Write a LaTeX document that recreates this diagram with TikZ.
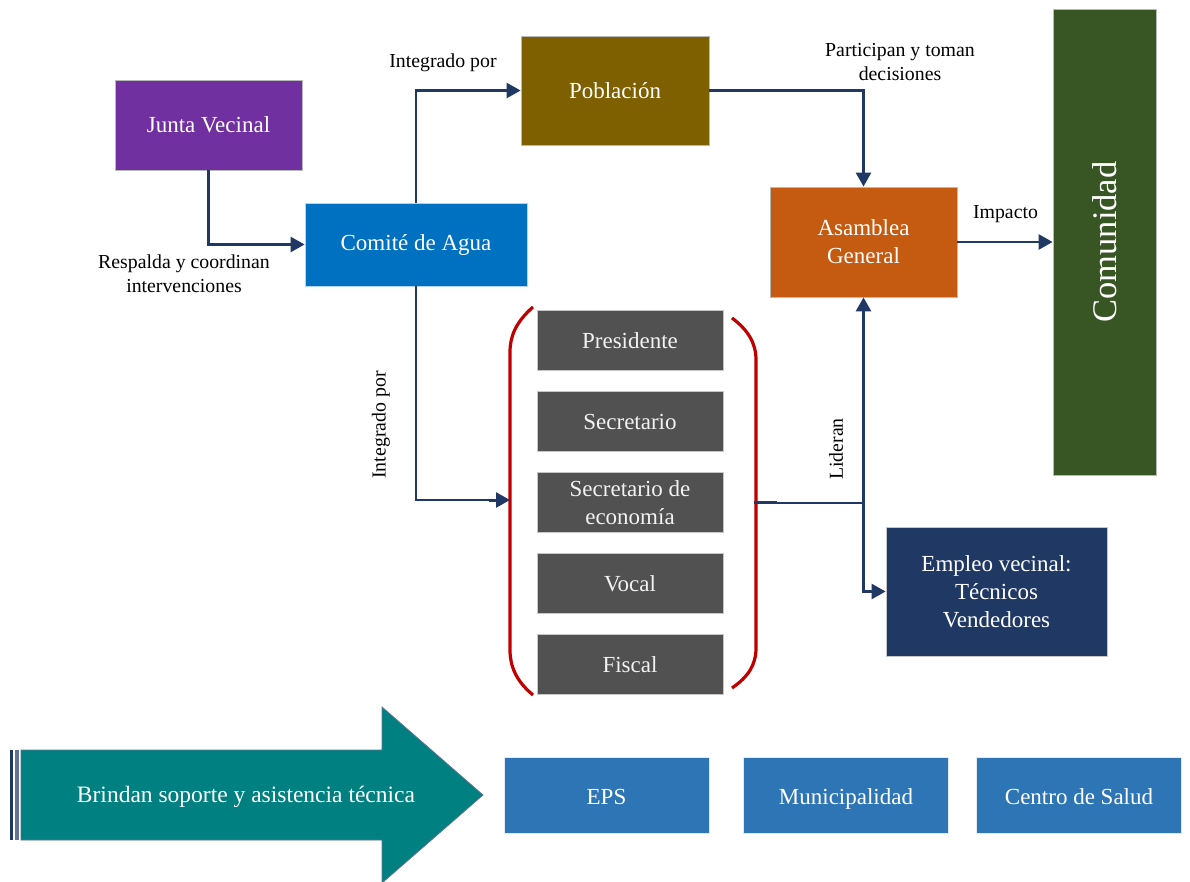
\documentclass[tikz,border=0pt]{standalone}
\usepackage{fontspec}
\setmainfont{Liberation Serif}
\usetikzlibrary{arrows.meta}
\definecolor{navy}{HTML}{203864}
\definecolor{juntac}{HTML}{7030A0}
\definecolor{comitec}{HTML}{0070C0}
\definecolor{poblc}{HTML}{7F6000}
\definecolor{asamc}{HTML}{C55A11}
\definecolor{comuc}{HTML}{375623}
\definecolor{cargoc}{HTML}{515151}
\definecolor{empleoc}{HTML}{1F3864}
\definecolor{apoyoc}{HTML}{2E75B6}
\definecolor{tealc}{HTML}{008080}
\definecolor{bracec}{HTML}{C00000}
\tikzset{
  box/.style={draw=gray!55, line width=0.8pt, text=white, align=center,
    font=\fontsize{23}{28}\selectfont, inner sep=2pt},
  cargo/.style={box, fill=cargoc, draw=gray!45, text=white!95!black,
    minimum width=186pt, minimum height=60pt},
  apoyo/.style={box, fill=apoyoc, draw=white!85!apoyoc,
    minimum width=205pt, minimum height=76pt, text height=19.6pt, text depth=0pt},
  lbl/.style={text=black, align=center, font=\fontsize{19.8}{24}\selectfont, inner sep=0pt},
  conn/.style={draw=navy, line width=2.6pt, line join=miter,
    -{Triangle[length=14pt,width=15pt]}},
  brace/.style={draw=bracec, line width=3.2pt}
}
\begin{document}
\begin{tikzpicture}[x=1pt,y=-1pt]
\useasboundingbox (0,0) rectangle (1190,882);

% main boxes
\node[box, fill=juntac, minimum width=187pt, minimum height=90pt] (junta) at (208.5,125) {Junta Vecinal};
\node[box, fill=comitec, draw=white!70!comitec, minimum width=222pt, minimum height=83pt] (comite) at (416,244.5) {Comité de Agua};
\node[box, fill=poblc, minimum width=188pt, minimum height=109pt] (poblacion) at (615,90.5) {Población};
\node[box, fill=asamc, minimum width=187pt, minimum height=110pt] (asamblea) at (863.5,242) {Asamblea\\General};
\node[box, fill=comuc, minimum width=103pt, minimum height=466pt] (comunidad) at (1104.5,242) {};
\node[text=white, rotate=90, font=\fontsize{34.5}{40}\selectfont] (comunidadtxt) at (comunidad.center) {Comunidad};
\node[box, fill=empleoc, draw=gray!45, minimum width=221pt, minimum height=129pt] (empleo) at (996.5,591.5) {Empleo vecinal:\\Técnicos\\Vendedores};

% members of the committee
\begin{scope}[yshift=-1.5pt]
\node[cargo] (presidente) at (630,339) {Presidente};
\node[cargo] (secretario) at (630,420) {Secretario};
\node[cargo] (economia) at (630,501) {Secretario de\\economía};
\node[cargo] (vocal) at (630,582) {Vocal};
\node[cargo] (fiscal) at (630,663) {Fiscal};
\end{scope}

% round brackets grouping the members
\draw[brace] (533,307) .. controls (516,322) and (510,336) .. (510,352) -- (510,650)
  .. controls (510,666) and (516,681) .. (533,695);
\draw[brace] (732,318) .. controls (748,330) and (756,343) .. (756,360) -- (756,648)
  .. controls (756,665) and (748,677) .. (732,688);
\coordinate (lb) at (510,500);
\coordinate (rb) at (754,503);
\coordinate (jn) at (863.5,503);
\draw[bracec, line width=2.6pt] (489,501) -- (498,501);
\draw[bracec, line width=2.6pt] (754,502) -- (777,502);

% connectors
\draw[conn] (junta.south) |- (comite.west);
\draw[conn] (comite.north) |- (poblacion.west);
\draw[conn] (comite.south) |- (lb);
\draw[conn] (poblacion.east) -| (asamblea.north);
\draw[conn] (asamblea.east) -- (comunidad.west);
\draw[conn] (rb) -| (asamblea.south);
\draw[conn] (jn) |- (empleo.west);

% connector labels
\node[lbl] (l1) at (184,274) {Respalda y coordinan\\intervenciones};
\node[lbl] (l2) at (443,63) {Integrado por};
\node[lbl, rotate=90] (l3) at (381,425) {Integrado por};
\node[lbl] (l4) at (900,62) {Participan y toman\\decisiones};
\node[lbl] (l5) at (1005.5,214) {Impacto};
\node[lbl, rotate=90] (l6) at (836,449) {Lideran};

% striped block arrow
\fill[tealc, draw=navy!70, line width=0.8pt] (21,750) -- (382,750) -- (382,707) -- (483,795)
  -- (382,883) -- (382,840) -- (21,840) -- cycle;
\fill[navy] (9.5,750) rectangle (13.2,840);
\fill[navy!70] (14.6,750) rectangle (19.2,840);
\fill[navy!80] (20.5,750) rectangle (22,840);
\node[text=white, font=\fontsize{23.5}{28}\selectfont] (soporte) at (246,797) {Brindan soporte y asistencia técnica};

% supporting institutions
\node[apoyo] (eps) at (606.5,795) {EPS};
\node[apoyo] (muni) at (846,795) {Municipalidad};
\node[apoyo] (salud) at (1079,795) {Centro de Salud};
\end{tikzpicture}
\end{document}
